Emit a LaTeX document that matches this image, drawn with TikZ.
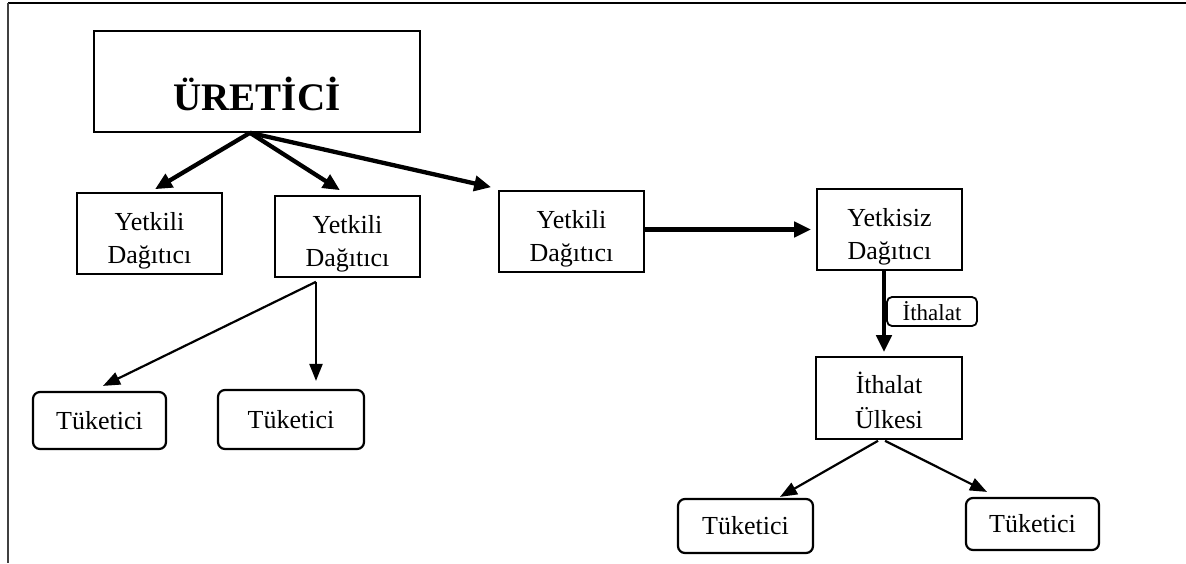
\documentclass[tikz,border=0pt]{standalone}
\usepackage{fontspec}
\setmainfont{Liberation Serif}
\usetikzlibrary{arrows.meta,calc}
\begin{document}
\begin{tikzpicture}[x=1pt,y=-1pt,
  box/.style={draw, line width=1.6pt, minimum width=145pt, minimum height=81pt, align=center, inner sep=0pt, text height=64pt, text depth=5pt, font=\fontsize{26}{33}\selectfont},
  tuk/.style={draw, line width=2.2pt, rounded corners=7pt, inner sep=0pt, font=\fontsize{26}{30}\selectfont},
  thk/.style={line width=4.3pt, -{Triangle[length=17pt,width=15pt]}},
  thn/.style={line width=2.2pt, -{Triangle[length=17pt,width=13pt]}}]
\useasboundingbox (0,0) rectangle (1186,563);
\draw[line width=2pt] (8,3) -- (1186,3);
\draw[line width=1.6pt, black!75] (8,3) -- (8,563);

\node[box, minimum width=326pt, minimum height=101pt, font=\bfseries\fontsize{39}{40}\selectfont, text height=67pt, text depth=10pt] (ur) at (257,81.5) {ÜRETİCİ};
\node[box] (yd1) at (149.5,233.5) {Yetkili\\Dağıtıcı};
\node[box] (yd2) at (347.5,236.5) {Yetkili\\Dağıtıcı};
\node[box] (yd3) at (571.5,231.5) {Yetkili\\Dağıtıcı};
\node[box] (ys) at (889.5,229.5) {Yetkisiz\\Dağıtıcı};
\node[box, minimum width=146pt, minimum height=82pt, text height=65pt, font=\fontsize{26}{35}\selectfont] (iu) at (889,398) {İthalat\\Ülkesi};
\node[tuk, minimum width=133pt, minimum height=57pt] (t1) at (99.5,420.5) {Tüketici};
\node[tuk, minimum width=146pt, minimum height=59pt] (t2) at (291,419.5) {Tüketici\hspace{12pt}};
\node[tuk, minimum width=135pt, minimum height=54pt] (t3) at (745.5,526) {Tüketici};
\node[tuk, minimum width=133pt, minimum height=52pt] (t4) at (1032.5,524) {Tüketici};
\node[tuk, line width=1.8pt, rounded corners=5pt, minimum width=90pt, minimum height=29pt, font=\fontsize{23}{26}\selectfont] (lab) at (932,311.5) {İthalat};

\draw[thk] ([xshift=-7pt]ur.south) -- ([xshift=5.5pt,yshift=3pt]yd1.north);
\draw[thk] ([xshift=-7pt]ur.south) -- ([xshift=-7.5pt,yshift=5pt]yd2.north);
\draw[thk] ([xshift=-7pt]ur.south) -- ([xshift=-7pt,yshift=3pt]yd3.north west);
\draw[thk] ([yshift=2pt]yd3.east) -- ([xshift=-5pt]ys.west);
\draw[thk] ([xshift=-5.5pt]ys.south) -- ([xshift=-5pt,yshift=4pt]iu.north);

\draw[thn] ([xshift=-31.5pt,yshift=-4pt]yd2.south) -- ([xshift=3.5pt,yshift=5pt]t1.north);
\draw[thn] ([xshift=-31.5pt,yshift=-4pt]yd2.south) -- ([xshift=25pt,yshift=8pt]t2.north);
\draw[thn] ([xshift=-11pt,yshift=-1pt]iu.south) -- ([xshift=34.5pt,yshift=1pt]t3.north);
\draw[thn] ([xshift=-4pt,yshift=-1pt]iu.south) -- ([xshift=-45.5pt,yshift=5pt]t4.north);
\end{tikzpicture}
\end{document}
